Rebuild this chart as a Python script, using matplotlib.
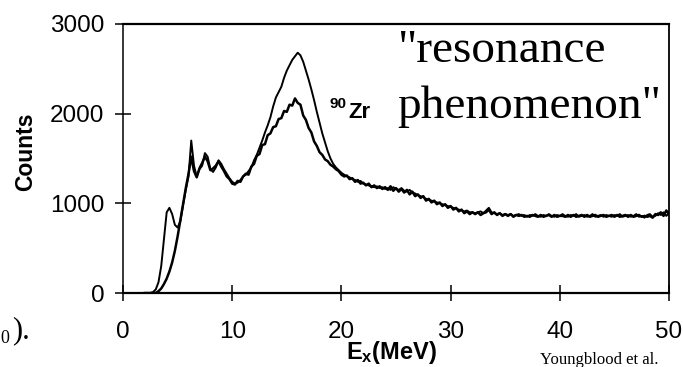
import matplotlib
matplotlib.use('Agg')
import matplotlib.pyplot as plt
import numpy as np

plt.rcParams['font.family'] = ['Liberation Sans', 'DejaVu Sans']
plt.rcParams['mathtext.fontset'] = 'custom'
plt.rcParams['mathtext.rm'] = 'Liberation Sans'
plt.rcParams['mathtext.bf'] = 'Liberation Sans:bold'
plt.rcParams['mathtext.it'] = 'Liberation Sans:italic'

# ---------------- data ----------------
energy = np.arange(2.0, 50.001, 0.25)  # MeV bins

counts_a_low = [
    0, 0, 0, 10, 40, 120, 300, 600, 900, 950, 880, 760, 730, 800, 980, 1150,
    1300, 1700, 1420, 1300, 1380, 1420, 1560, 1520, 1380, 1350, 1400, 1480,
    1440, 1380, 1330, 1280, 1240, 1220, 1230, 1260, 1300, 1320, 1360, 1400,
    1480, 1540, 1620, 1700, 1790, 1870, 1960, 2080, 2180, 2240, 2300, 2400,
    2480, 2540, 2600, 2640, 2680, 2650, 2580, 2480, 2380, 2270, 2150, 2020,
    1900, 1780, 1680, 1580, 1500, 1440, 1400, 1370, 1340]
counts_a_tail = [
    1320, 1300, 1290, 1270, 1260, 1240, 1250, 1220, 1210, 1200, 1190, 1180,
    1190, 1170, 1180, 1160, 1170, 1150, 1180, 1160, 1150, 1170, 1140, 1130,
    1150, 1120, 1110, 1090, 1080, 1070, 1050, 1040, 1030, 1020, 1010, 1000,
    990, 980, 970, 960, 950, 940, 930, 920, 910, 920, 900, 900,
    890, 900, 910, 890, 920, 950, 900, 890, 880, 890, 870, 880,
    870, 880, 860, 870, 880, 860, 870, 850, 870, 860, 880, 860,
    850, 870, 860, 880, 860, 850, 870, 860, 880, 860, 850, 870,
    860, 880, 850, 860, 870, 850, 860, 880, 850, 860, 870, 850,
    870, 860, 850, 870, 860, 880, 850, 860, 870, 850, 860, 880,
    850, 860, 840, 870, 880, 850, 860, 890, 870, 900, 860, 890]

counts_b_low = [
    0, 0, 0, 0, 0, 20, 50, 100, 160, 240, 340, 470, 630, 810, 990, 1170,
    1330, 1520, 1360, 1290, 1390, 1450, 1520, 1470, 1370, 1390, 1420, 1470,
    1410, 1360, 1300, 1270, 1220, 1210, 1250, 1240, 1300, 1330, 1320, 1410,
    1440, 1530, 1550, 1650, 1660, 1760, 1780, 1850, 1860, 1940, 1950, 2030,
    2020, 2100, 2090, 2170, 2120, 2100, 1980, 1930, 1840, 1790, 1690, 1640,
    1570, 1540, 1490, 1470, 1430, 1410, 1380, 1360, 1320]
counts_b_tail = [
    1300, 1310, 1270, 1280, 1240, 1260, 1220, 1230, 1200, 1220, 1180, 1200,
    1170, 1190, 1160, 1180, 1150, 1190, 1140, 1170, 1130, 1160, 1120, 1150,
    1100, 1130, 1080, 1100, 1060, 1080, 1030, 1050, 1010, 1030, 990, 1010,
    970, 990, 950, 970, 930, 950, 910, 930, 890, 910, 880, 900,
    880, 900, 870, 890, 900, 930, 880, 900, 870, 890, 860, 880,
    860, 880, 850, 870, 860, 870, 850, 860, 850, 870, 860, 850,
    870, 850, 860, 870, 850, 870, 850, 860, 860, 850, 870, 850,
    870, 850, 860, 870, 850, 870, 850, 860, 870, 850, 860, 870,
    850, 860, 870, 850, 870, 850, 860, 870, 850, 870, 850, 860,
    870, 850, 860, 850, 860, 840, 880, 870, 900, 860, 920, 880]

counts_a = np.array(counts_a_low + counts_a_tail)
counts_b = np.array(counts_b_low + counts_b_tail)

x_ticks = [0, 10, 20, 30, 40, 50]
y_ticks = [0, 1000, 2000, 3000]

# ---------------- figure ----------------
W, H = 683, 367
fig = plt.figure(figsize=(W / 100, H / 100), dpi=100)
ax = fig.add_axes([123 / W, 1 - 293 / H, (669 - 123) / W, (293 - 24) / H])

ax.plot(energy, counts_a, color='black', lw=1.4)
ax.plot(energy, counts_b, color='black', lw=1.8)

ax.set_xlim(0, 50)
ax.set_ylim(0, 3000)
ax.set_xticks(x_ticks)
ax.set_yticks(y_ticks)
ax.tick_params(direction='inout', length=11, width=1.1, labelsize=17.5,
               colors='black')
ax.tick_params(axis='x', pad=15)
ax.tick_params(axis='y', pad=8)
ax.spines['top'].set_linewidth(1.6)
ax.spines['bottom'].set_linewidth(1.6)
ax.spines['left'].set_linewidth(1.1)
ax.spines['right'].set_linewidth(1.3)


def px(x, y):
    return x / W, 1 - y / H


fig.text(*px(26, 152), 'Counts', rotation=90, fontsize=16.5,
         fontweight='bold', ha='center', va='center')
fig.text(*px(392, 352), r'$\mathbf{E_x(MeV)}$', fontsize=17,
         ha='center', va='center')

fig.text(*px(329, 108), '90', fontsize=11, fontweight='bold',
         ha='left', va='baseline')
fig.text(*px(348, 118), 'Zr', fontsize=16, fontweight='bold',
         ha='left', va='baseline')

fig.text(*px(397, 62), '"resonance', family='Liberation Serif',
         fontsize=34, ha='left', va='baseline')
fig.text(*px(397, 118), 'phenomenon"', family='Liberation Serif',
         fontsize=34, ha='left', va='baseline')

fig.text(*px(0, 343), '0', family='Liberation Serif', fontsize=13,
         ha='left', va='baseline')
fig.text(*px(12, 338), ').', family='Liberation Serif', fontsize=22,
         ha='left', va='baseline')
fig.text(*px(540, 364), 'Youngblood et al.', family='Liberation Serif',
         fontsize=12, ha='left', va='baseline')

fig.savefig('out.png', dpi=100)
